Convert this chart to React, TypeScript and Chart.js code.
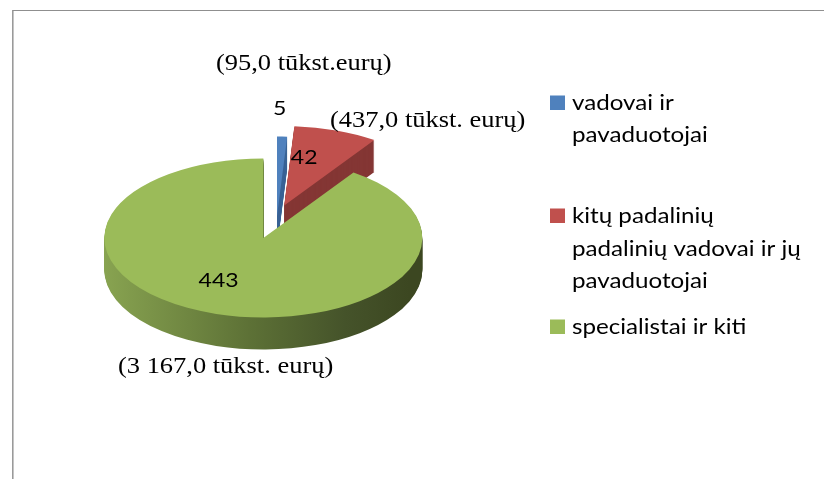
import React, { useEffect, useRef } from "react";
import { Chart, registerables } from "chart.js";

Chart.register(...registerables);

// ---- data ----
const categories = [
  "vadovai ir pavaduotojai",
  "kitų padalinių padalinių vadovai ir jų pavaduotojai",
  "specialistai ir kiti",
];
const legendLines = [
  ["vadovai ir", "pavaduotojai"],
  ["kitų padalinių", "padalinių vadovai ir jų", "pavaduotojai"],
  ["specialistai ir kiti"],
];
const headcount = [5, 42, 443];
const amountLabels = [
  "(95,0 tūkst.eurų)",
  "(437,0 tūkst. eurų)",
  "(3 167,0 tūkst. eurų)",
];

// ---- styles / layout ----
const topColors = ["#4F81BD", "#C0504D", "#9BBB59"];
const sideColors = ["#3B6496", "#843634", null];
const greenSideStops: [number, string][] = [
  [0, "#8ca853"],
  [0.5, "#5d7136"],
  [0.8, "#45532a"],
  [1, "#3c4721"],
];
const K = 0.5; // vertical squash of the pie
const DEPTH = 32; // px of 3D side
const RADIUS = 159;
const explode = [0, 22, 46];
const labelPlace = [
  { r: 1.36, f: 0.2 },
  { r: 0.62, f: 0.26 },
  { r: 0.6, f: 0.533 },
];
const amountPos = [
  { x: 216, y: 70 },
  { x: 330, y: 127 },
  { x: 118, y: 373 },
];
const legendX = 550;
const legendTextX = 572;
const legendBaselines = [
  [110, 142],
  [223, 255.5, 288],
  [334],
];
const SX = 1.15; // horizontal stretch of text (reference is stretched)
const SANS = "Lato, 'Noto Sans', sans-serif";
const SERIF = "'Liberation Serif', 'DejaVu Serif', serif";

function drawText(
  ctx: CanvasRenderingContext2D,
  text: string,
  x: number,
  y: number,
  font: string,
  align: "left" | "center"
) {
  ctx.save();
  ctx.font = font;
  ctx.textAlign = "left";
  ctx.textBaseline = "alphabetic";
  ctx.fillStyle = "#000";
  const w = ctx.measureText(text).width * SX;
  const x0 = align === "center" ? x - w / 2 : x;
  ctx.translate(x0, y);
  ctx.scale(SX, 1);
  ctx.fillText(text, 0, 0);
  ctx.restore();
}

const pie3d = {
  id: "pie3d",
  beforeDraw(chart: any) {
    const ctx = chart.ctx as CanvasRenderingContext2D;
    ctx.save();
    ctx.fillStyle = "#fff";
    ctx.fillRect(0, 0, chart.width, chart.height);
    // frame lines
    ctx.fillStyle = "#8f8f8f";
    ctx.fillRect(12, 10, chart.width - 12, 1);
    ctx.fillStyle = "#9a9a9a";
    ctx.fillRect(12, 10, 1, chart.height - 10);
    ctx.fillStyle = "#c4c4c4";
    ctx.fillRect(13, 11, 1, chart.height - 11);
    ctx.restore();
  },
  beforeDatasetsDraw(chart: any) {
    const meta = chart.getDatasetMeta(0);
    const arcs = meta.data as any[];
    if (!arcs.length) return false;
    const ctx = chart.ctx as CanvasRenderingContext2D;
    const cx = arcs[0].x;
    const cy = arcs[0].y;
    const shift = (a: any, i: number) => {
      const m = (a.startAngle + a.endAngle) / 2;
      return [Math.cos(m) * explode[i], Math.sin(m) * explode[i]];
    };
    ctx.save();
    ctx.translate(cx, cy);
    ctx.scale(1, K);
    ctx.translate(-cx, -cy);
    const fills = arcs.map((a, i) => {
      if (sideColors[i]) return sideColors[i];
      const [dx] = shift(a, i);
      const g = ctx.createLinearGradient(
        cx + dx - a.outerRadius,
        0,
        cx + dx + a.outerRadius,
        0
      );
      greenSideStops.forEach(([o, c]) => g.addColorStop(o, c));
      return g;
    });
    // sides
    for (let t = DEPTH; t >= 1; t -= 1) {
      arcs.forEach((a, i) => {
        const [dx, dy] = shift(a, i);
        ctx.save();
        ctx.translate(dx, dy + t / K);
        const orig = a.options;
        a.options = { ...orig, backgroundColor: fills[i], borderWidth: 0 };
        a.draw(ctx);
        a.options = orig;
        ctx.restore();
      });
    }
    // tops
    arcs.forEach((a, i) => {
      const [dx, dy] = shift(a, i);
      ctx.save();
      ctx.translate(dx, dy);
      a.draw(ctx);
      ctx.restore();
    });
    ctx.restore();
    return false;
  },
  afterDraw(chart: any) {
    const ctx = chart.ctx as CanvasRenderingContext2D;
    const meta = chart.getDatasetMeta(0);
    const arcs = meta.data as any[];
    const values = chart.data.datasets[0].data as number[];
    arcs.forEach((a, i) => {
      const m = (a.startAngle + a.endAngle) / 2;
      const dx = Math.cos(m) * explode[i];
      const dy = Math.sin(m) * explode[i];
      const ang = a.startAngle + labelPlace[i].f * (a.endAngle - a.startAngle);
      const r = labelPlace[i].r * a.outerRadius;
      const px = a.x + dx + Math.cos(ang) * r;
      const py = a.y + K * (dy + Math.sin(ang) * r);
      drawText(ctx, String(values[i]), px, py + 7, `20px ${SANS}`, "center");
      drawText(ctx, amountLabels[i], amountPos[i].x, amountPos[i].y, `23px ${SERIF}`, "left");
    });
    // legend
    const colors = chart.data.datasets[0].backgroundColor as string[];
    legendLines.forEach((lines, i) => {
      const base = legendBaselines[i];
      ctx.save();
      ctx.fillStyle = colors[i];
      ctx.fillRect(legendX, base[0] - 14.5, 15, 14.5);
      ctx.restore();
      lines.forEach((ln, j) => {
        drawText(ctx, ln, legendTextX, base[j], `21px ${SANS}`, "left");
      });
    });
  },
};

export default function App() {
  const ref = useRef<HTMLCanvasElement | null>(null);
  useEffect(() => {
    if (!ref.current) return;
    const chart = new Chart(ref.current, {
      type: "pie",
      data: {
        labels: categories,
        datasets: [
          {
            data: headcount,
            backgroundColor: topColors,
            borderWidth: 0,
            radius: RADIUS,
          } as any,
        ],
      },
      options: {
        animation: false,
        responsive: true,
        maintainAspectRatio: false,
        events: [],
        layout: { padding: { left: 0, right: 270, top: 0, bottom: 47 } },
        plugins: {
          legend: { display: false },
          tooltip: { enabled: false },
          title: { display: false },
        },
      },
      plugins: [pie3d],
    });
    return () => chart.destroy();
  }, []);
  return (
    <div style={{ position: "absolute", left: 0, top: 0, width: 824, height: 479 }}>
      <canvas ref={ref} />
    </div>
  );
}
